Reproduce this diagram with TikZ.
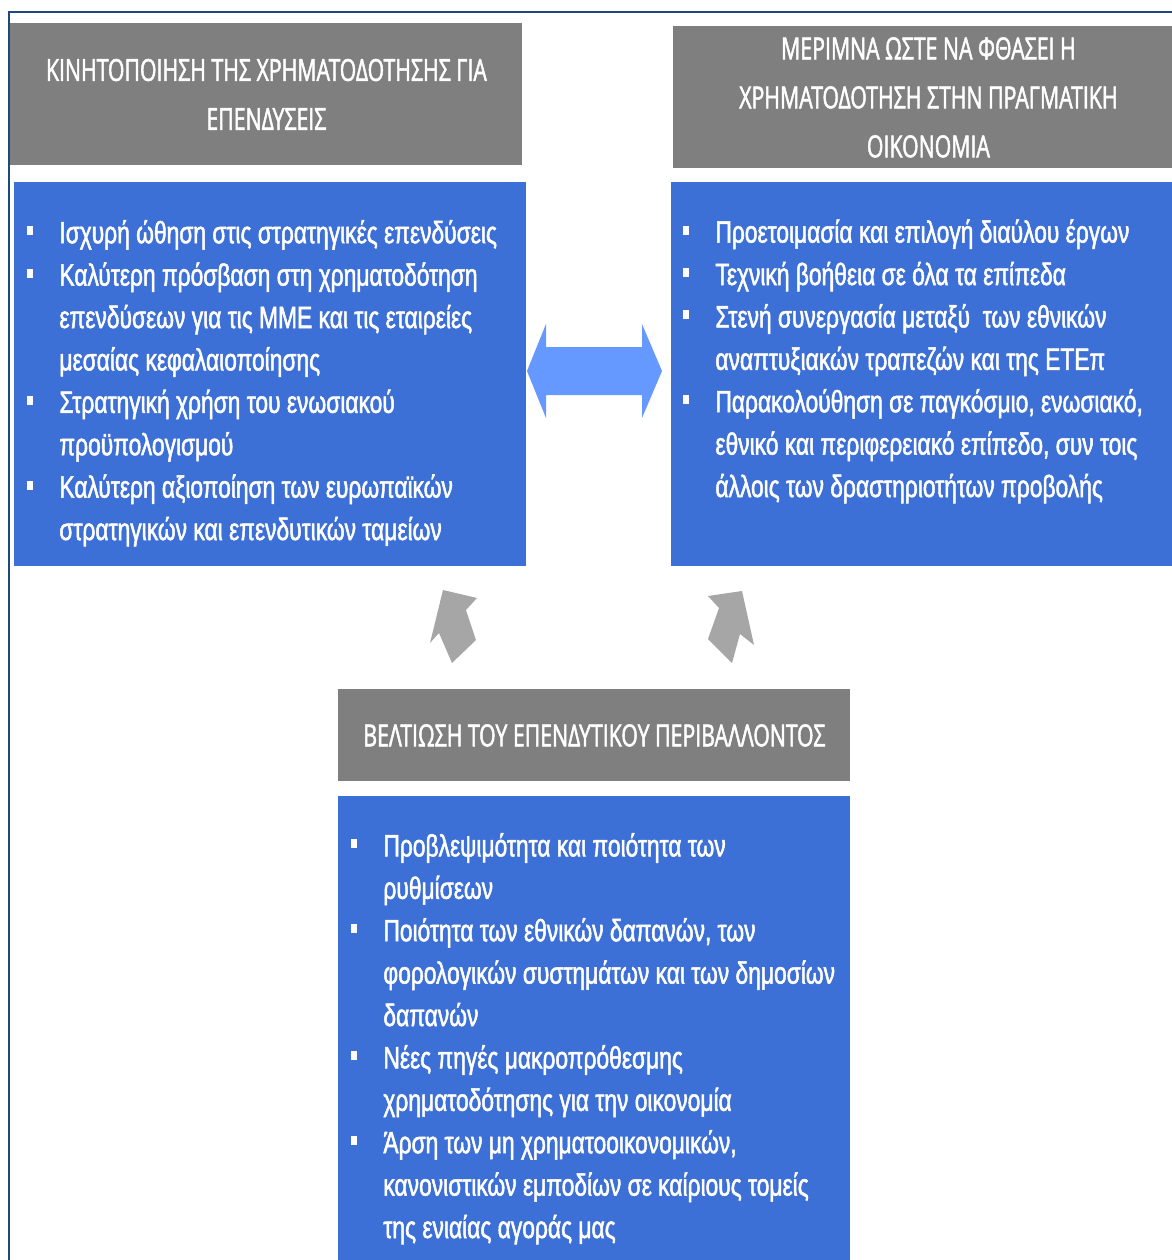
\documentclass[tikz,border=0pt]{standalone}
\usepackage{fontspec}
\setmainfont{Liberation Sans}[FakeStretch=0.74, FakeBold=1.6]
\newfontfamily\headfont{Open Sans}[FakeStretch=0.70, FakeBold=1.6]
\usetikzlibrary{positioning}

\definecolor{frameblue}{RGB}{31,73,125}
\definecolor{boxgray}{RGB}{127,127,127}
\definecolor{boxblue}{RGB}{61,112,214}
\definecolor{arrblue}{RGB}{102,153,255}
\definecolor{arrgray}{RGB}{166,166,166}

\newcommand{\bul}{\makebox[16pt][l]{\rule[4pt]{3pt}{4.5pt}}}
\newcommand{\ind}{\makebox[16pt]{}}

\begin{document}
\begin{tikzpicture}[
    x=0.5pt, y=-0.5pt,
    head/.style={fill=boxgray, text=white, font=\headfont\fontsize{15.2}{24.5}\selectfont, align=center, minimum width=256pt, inner sep=0pt, anchor=north west},
    panel/.style={fill=boxblue, minimum width=256pt, inner sep=0pt, anchor=north west},
    items/.style={text=white, font=\fontsize{15.4}{21.2}\selectfont, align=left, inner sep=0pt, anchor=base west}
]
\useasboundingbox (0,0) rectangle (1172,1260);
\draw[frameblue, line width=0.7pt] (1190,12) -- (9,12) -- (9,1280);

\node[head, minimum height=71pt] (kinit) at (10,23) {ΚΙΝΗΤΟΠΟΙΗΣΗ ΤΗΣ ΧΡΗΜΑΤΟΔΟΤΗΣΗΣ ΓΙΑ\\ΕΠΕΝΔΥΣΕΙΣ};
\node[head, minimum height=71pt, minimum width=255pt] (merimna) at (673,26) {ΜΕΡΙΜΝΑ ΩΣΤΕ ΝΑ ΦΘΑΣΕΙ Η\\ΧΡΗΜΑΤΟΔΟΤΗΣΗ ΣΤΗΝ ΠΡΑΓΜΑΤΙΚΗ\\ΟΙΚΟΝΟΜΙΑ};
\node[head, minimum height=46pt] (veltiosi) at (338,689) {ΒΕΛΤΙΩΣΗ ΤΟΥ ΕΠΕΝΔΥΤΙΚΟΥ ΠΕΡΙΒΑΛΛΟΝΤΟΣ};

\node[panel, minimum height=192pt] (kinitbox) at (14,182) {};
\node[panel, minimum height=192pt] (merimnabox) at (671,182) {};
\node[panel, minimum height=245pt] (veltiosibox) at (338,796) {};

% lists sit on the baseline of their last line
\node[items] (kinitlist) at (27,540) {\bul Ισχυρή ώθηση στις στρατηγικές επενδύσεις\\
  \bul Καλύτερη πρόσβαση στη χρηματοδότηση\\
  \ind επενδύσεων για τις ΜΜΕ και τις εταιρείες\\
  \ind μεσαίας κεφαλαιοποίησης\\
  \bul Στρατηγική χρήση του ενωσιακού\\
  \ind προϋπολογισμού\\
  \bul Καλύτερη αξιοποίηση των ευρωπαϊκών\\
  \ind στρατηγικών και επενδυτικών ταμείων};
\node[items] (merimnalist) at (683,497) {\bul Προετοιμασία και επιλογή διαύλου έργων\\
  \bul Τεχνική βοήθεια σε όλα τα επίπεδα\\
  \bul Στενή συνεργασία μεταξύ\ \ των εθνικών\\
  \ind αναπτυξιακών τραπεζών και της ΕΤΕπ\\
  \bul Παρακολούθηση σε παγκόσμιο, ενωσιακό,\\
  \ind εθνικό και περιφερειακό επίπεδο, συν τοις\\
  \ind άλλοις των δραστηριοτήτων προβολής};
\node[items] (veltiosilist) at (351,1238) {\bul Προβλεψιμότητα και ποιότητα των\\
  \ind ρυθμίσεων\\
  \bul Ποιότητα των εθνικών δαπανών, των\\
  \ind φορολογικών συστημάτων και των δημοσίων\\
  \ind δαπανών\\
  \bul Νέες πηγές μακροπρόθεσμης\\
  \ind χρηματοδότησης για την οικονομία\\
  \bul Άρση των μη χρηματοοικονομικών,\\
  \ind κανονιστικών εμποδίων σε καίριους τομείς\\
  \ind της ενιαίας αγοράς μας};

% block arrows between the panels
\fill[arrblue] (527,371) -- (546,324) -- (546,347) -- (642,347) -- (642,324) -- (662,371)
  -- (642,418) -- (642,395) -- (546,395) -- (546,418) -- cycle;
\fill[arrgray] (443,590) -- (477,598) -- (466,610) -- (476,640) -- (452,663) -- (439,633) -- (430,643) -- cycle;
\fill[arrgray] (742,591) -- (754,645) -- (740,634) -- (732,663) -- (708,639) -- (719,608) -- (708,596) -- cycle;
\end{tikzpicture}
\end{document}
